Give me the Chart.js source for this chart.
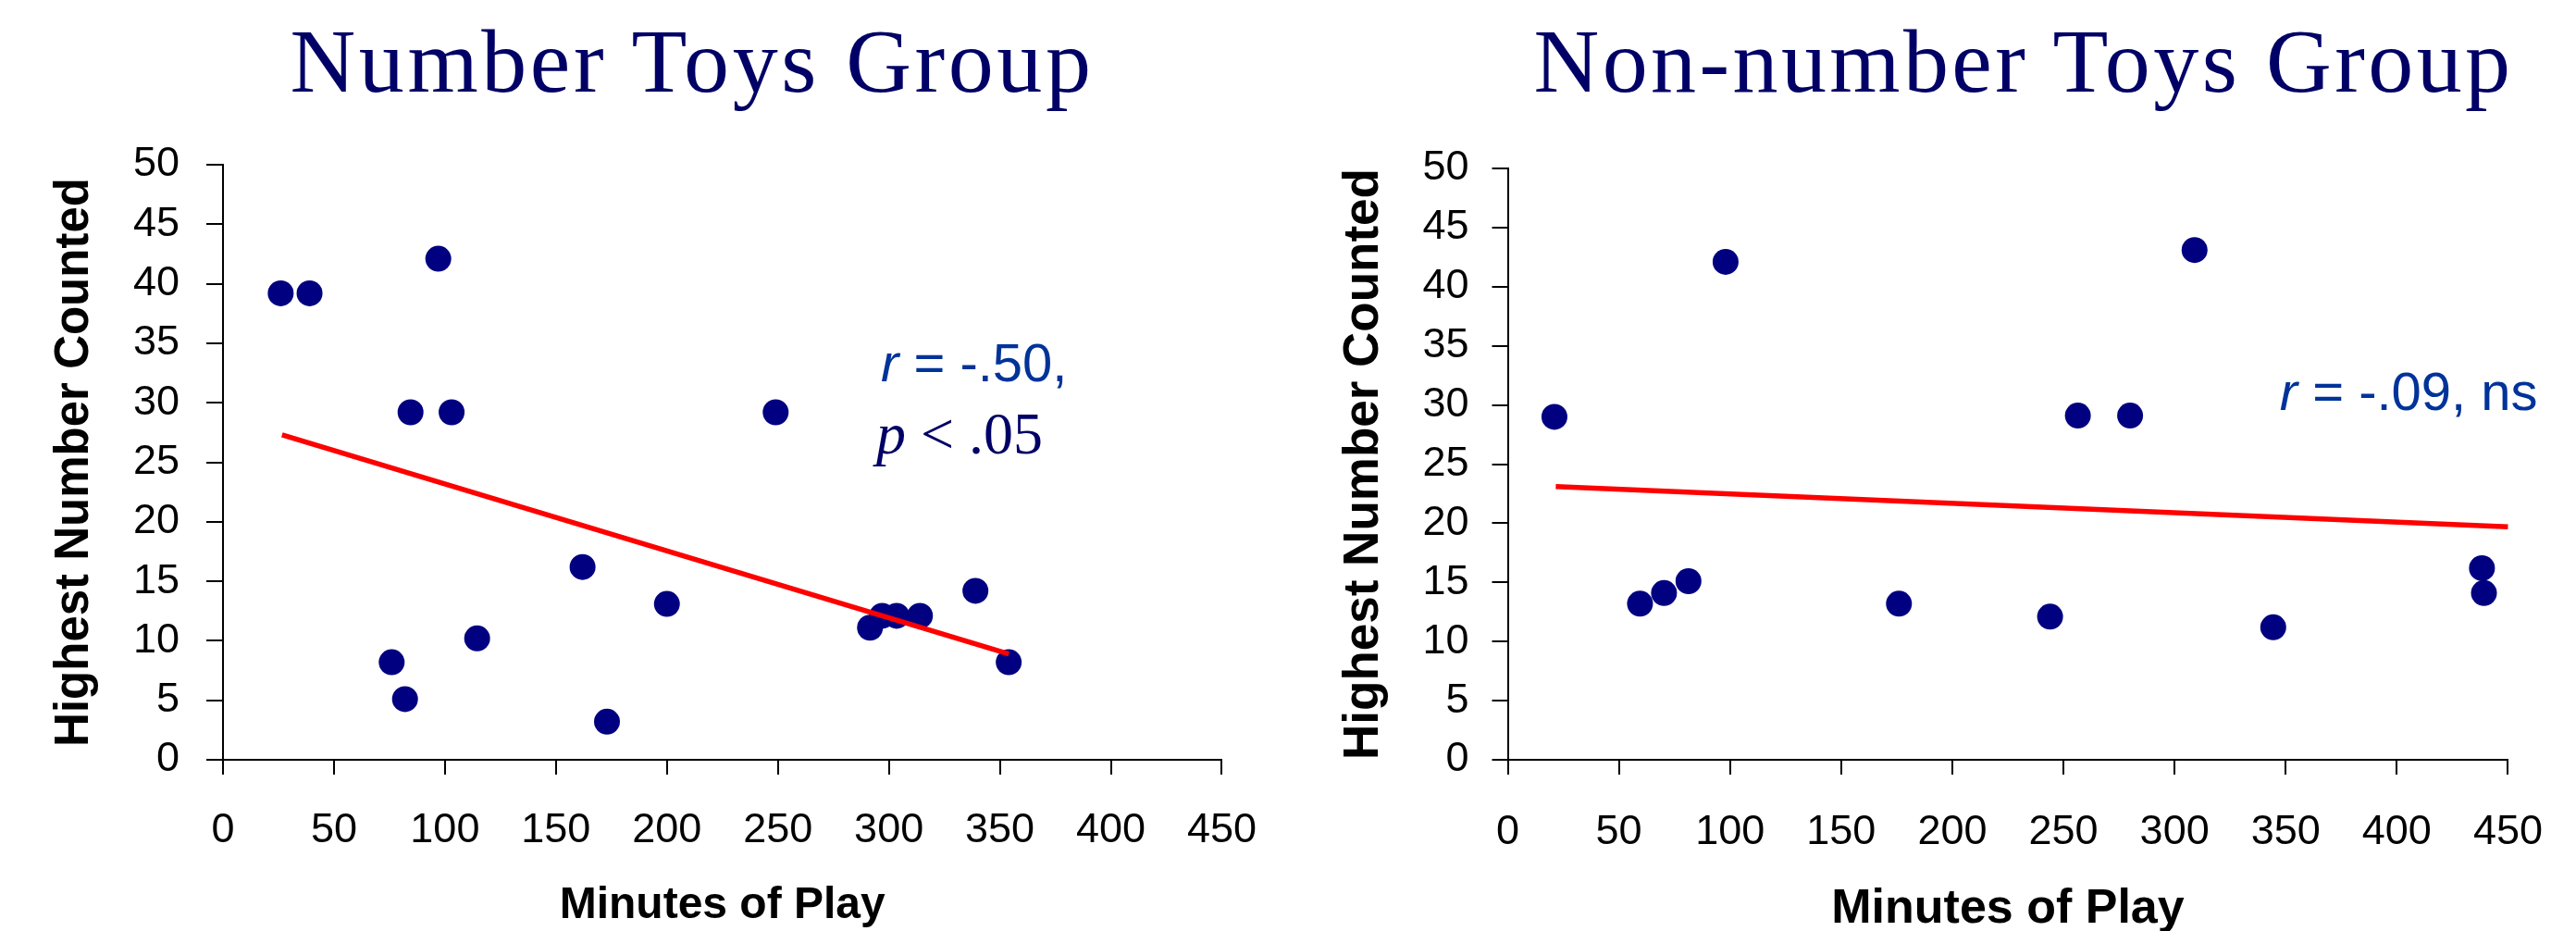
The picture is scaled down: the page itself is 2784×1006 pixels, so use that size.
<!DOCTYPE html>
<html>
<head>
<meta charset="utf-8">
<script src="https://cdn.jsdelivr.net/npm/chart.js@4.4.1/dist/chart.umd.min.js"></script>
<style>
    body { margin: 0; background: #fff; }
    #page { position: relative; width: 2784px; height: 1006px; overflow: hidden; }
    .chart-title {
        position: absolute;
        top: 17px;
        transform: translateX(-50%);
        white-space: nowrap;
        font-family: "Liberation Serif", "Times New Roman", serif;
        font-size: 98px;
        line-height: 1;
        color: #000066;
    }
    canvas { position: absolute; top: 0; }
</style>
</head>
<body>
<div id="page">
    <div class="chart-title" style="left:748px; letter-spacing:3.6px">Number Toys Group</div>
    <div class="chart-title" style="left:2187px; letter-spacing:3.4px">Non-number Toys Group</div>
    <canvas id="number-toys" width="1392" height="1006" style="left:0"></canvas>
    <canvas id="non-number-toys" width="1392" height="1006" style="left:1392px"></canvas>
</div>
<script>
// Number toys group: minutes of play vs highest number counted
const numberMinutes = [26, 39, 97, 84.5, 103, 249, 162, 200, 114.5, 76, 82, 173, 291.5, 297, 303.5, 314, 339, 354];
const numberCounted = [39.2, 39.2, 42.1, 29.2, 29.2, 29.2, 16.2, 13.1, 10.2, 8.2, 5.1, 3.2, 11.1, 12.1, 12.1, 12.1, 14.2, 8.2];
const numberFitMinutes = [26.6, 354];
const numberFitCounted = [27.3, 8.9];

// Non-number toys group
const otherMinutes = [21, 59.5, 70.3, 81.3, 98, 176, 244, 256.5, 280, 309, 344.4, 438.3, 439.2];
const otherCounted = [29.0, 13.2, 14.1, 15.1, 42.1, 13.2, 12.1, 29.1, 29.1, 43.1, 11.2, 16.2, 14.1];
const otherFitMinutes = [21.6, 450];
const otherFitCounted = [23.1, 19.7];

const minuteTicks = [0, 450, 50];
const countTicks = [0, 50, 5];

const SANS = '"Liberation Sans", Arial, sans-serif';
const SERIF = '"Liberation Serif", "Times New Roman", serif';

const toPoints = (xs, ys) => xs.map((x, i) => ({ x, y: ys[i] }));

// draws the r / p statistics next to the data, anchored in axis units
const notesPlugin = {
    id: 'notes',
    afterDatasetsDraw(chart, args, opts) {
        const ctx = chart.ctx;
        const { x, y } = chart.scales;
        (opts.lines || []).forEach(line => {
            let px = x.getPixelForValue(line.x);
            const py = y.getPixelForValue(line.y);
            ctx.save();
            ctx.textBaseline = 'alphabetic';
            ctx.textAlign = 'left';
            ctx.fillStyle = line.color;
            line.runs.forEach(run => {
                ctx.font = run.font;
                ctx.fillText(run.text, px, py);
                px += ctx.measureText(run.text).width;
            });
            ctx.restore();
        });
    }
};

function makeChart(canvasId, cfg) {
    return new Chart(document.getElementById(canvasId), {
        type: 'scatter',
        data: {
            datasets: [
                {
                    data: toPoints(cfg.fitX, cfg.fitY),
                    showLine: true,
                    borderColor: '#ff0000',
                    borderWidth: 5.5,
                    pointRadius: 0,
                    order: 0,
                    clip: false
                },
                {
                    data: toPoints(cfg.xs, cfg.ys),
                    backgroundColor: '#000080',
                    borderWidth: 0,
                    pointRadius: 14,
                    order: 1,
                    clip: false
                }
            ]
        },
        options: {
            responsive: false,
            animation: false,
            events: [],
            layout: { padding: { left: 0, top: cfg.top, right: cfg.right, bottom: 0 } },
            plugins: {
                legend: { display: false },
                tooltip: { enabled: false },
                notes: { lines: cfg.notes }
            },
            scales: {
                x: {
                    type: 'linear',
                    min: minuteTicks[0],
                    max: minuteTicks[1],
                    afterFit: s => { s.height = 1006 - 821; },
                    ticks: {
                        stepSize: minuteTicks[2],
                        padding: cfg.xTickPad,
                        color: '#000',
                        font: { family: SANS, size: 45 }
                    },
                    grid: { drawOnChartArea: false, tickLength: 16, color: '#000', lineWidth: 2 },
                    border: { display: true, color: '#000', width: 2 },
                    title: {
                        display: true,
                        text: 'Minutes of Play',
                        color: '#000',
                        font: { family: SANS, size: cfg.xTitleSize, weight: 'bold', lineHeight: 0.7 },
                        padding: { top: 0, bottom: cfg.xTitlePad }
                    }
                },
                y: {
                    type: 'linear',
                    min: countTicks[0],
                    max: countTicks[1],
                    afterFit: s => { s.width = cfg.axisWidth; },
                    ticks: {
                        stepSize: countTicks[2],
                        padding: cfg.yTickPad,
                        color: '#000',
                        font: { family: SANS, size: 45 }
                    },
                    grid: { drawOnChartArea: false, tickLength: cfg.yTickLen, color: '#000', lineWidth: 2 },
                    border: { display: true, color: '#000', width: 2 },
                    title: {
                        display: true,
                        text: 'Highest Number Counted',
                        color: '#000',
                        font: { family: SANS, size: cfg.yTitleSize, weight: 'bold', lineHeight: 1.2 },
                        padding: { top: cfg.yTitlePad, bottom: 0 }
                    }
                }
            }
        },
        plugins: [notesPlugin]
    });
}

makeChart('number-toys', {
    xs: numberMinutes, ys: numberCounted,
    fitX: numberFitMinutes, fitY: numberFitCounted,
    top: 178, right: 39, axisWidth: 241,
    yTickPad: 29, yTickLen: 18, xTickPad: 34,
    xTitleSize: 48, xTitlePad: 10,
    yTitleSize: 51, yTitlePad: 50,
    notes: [
        { x: 296.4, y: 31.8, color: '#003399', runs: [
            { text: 'r', font: 'italic 58px ' + SANS },
            { text: ' = -.50,', font: '58px ' + SANS }
        ] },
        { x: 294.3, y: 25.7, color: '#000066', runs: [
            { text: 'p', font: 'italic 64px ' + SERIF },
            { text: ' < .05', font: '64px ' + SERIF }
        ] }
    ]
});

makeChart('non-number-toys', {
    xs: otherMinutes, ys: otherCounted,
    fitX: otherFitMinutes, fitY: otherFitCounted,
    top: 182, right: 55.5, axisWidth: 237.5,
    yTickPad: 25, yTickLen: 17, xTickPad: 36,
    xTitleSize: 52, xTitlePad: 5,
    yTitleSize: 53, yTitlePad: 51,
    notes: [
        { x: 347.3, y: 29.6, color: '#003399', runs: [
            { text: 'r', font: 'italic 58px ' + SANS },
            { text: ' = -.09, ns', font: '58px ' + SANS }
        ] }
    ]
});
</script>
</body>
</html>
